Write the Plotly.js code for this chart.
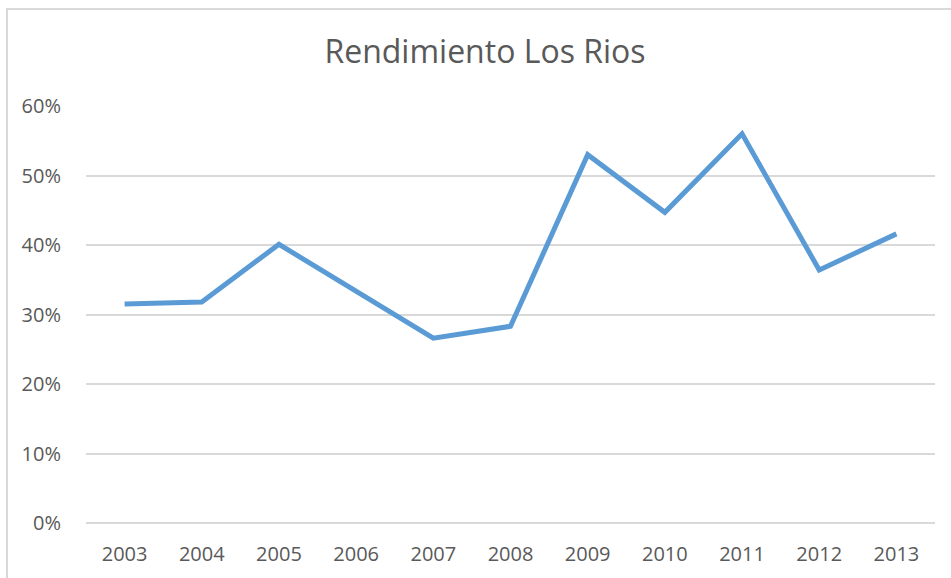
<!DOCTYPE html>
<html>
<head>
<meta charset="utf-8">
<script src="https://cdn.plot.ly/plotly-3.0.1.min.js"></script>
<style>
  html, body { margin: 0; padding: 0; background: #fff; }
  #frame { position: absolute; left: 6px; top: 8px; width: 1000px; height: 600px;
           border-left: 2px solid #d9d9d9; border-top: 2px solid #d9d9d9; }
  #chart { position: absolute; left: 0; top: 0; width: 951px; height: 578px; }
</style>
</head>
<body>
<div id="frame"></div>
<div id="chart"></div>
<script>
const years = ['2003','2004','2005','2006','2007','2008','2009','2010','2011','2012','2013'];
const rendimiento = [0.315, 0.318, 0.401, 0.334, 0.266, 0.283, 0.530, 0.447, 0.560, 0.364, 0.416];
const yTicks = [0, 0.1, 0.2, 0.3, 0.4, 0.5, 0.6];
const yTickLabels = ['0%', '10%', '20%', '30%', '40%', '50%', '60%'];

const trace = {
  x: years,
  y: rendimiento,
  type: 'scatter',
  mode: 'lines',
  line: { color: '#5B9BD5', width: 5 },
  hoverinfo: 'x+y'
};

const layout = {
  width: 951,
  height: 578,
  paper_bgcolor: 'rgba(0,0,0,0)',
  plot_bgcolor: 'rgba(0,0,0,0)',
  margin: { l: 86, r: 16, t: 106, b: 55 },
  showlegend: false,
  font: { family: 'Open Sans, sans-serif', color: '#595959', size: 20 },
  title: {
    text: 'Rendimiento Los Rios',
    font: { family: 'Open Sans, sans-serif', size: 32, color: '#595959' },
    xref: 'container', x: 485/951, xanchor: 'center',
    yref: 'container', y: 1 - 52/578, yanchor: 'middle'
  },
  xaxis: {
    type: 'category',
    range: [-0.5, years.length - 0.5],
    showgrid: false,
    showline: false,
    zeroline: false,
    ticks: 'outside', ticklen: 13, tickcolor: 'rgba(0,0,0,0)',
    tickfont: { size: 20, color: '#595959' }
  },
  yaxis: {
    range: [0, 0.6],
    tickvals: yTicks,
    ticktext: yTickLabels,
    showgrid: true,
    gridcolor: '#d9d9d9',
    gridwidth: 1.5,
    zeroline: true,
    zerolinecolor: '#d9d9d9',
    zerolinewidth: 1.5,
    showline: false,
    ticks: 'outside', ticklen: 20, tickcolor: 'rgba(0,0,0,0)',
    tickfont: { size: 20, color: '#595959' }
  }
};

Plotly.newPlot('chart', [trace], layout, { displayModeBar: false, responsive: false });
</script>
</body>
</html>
